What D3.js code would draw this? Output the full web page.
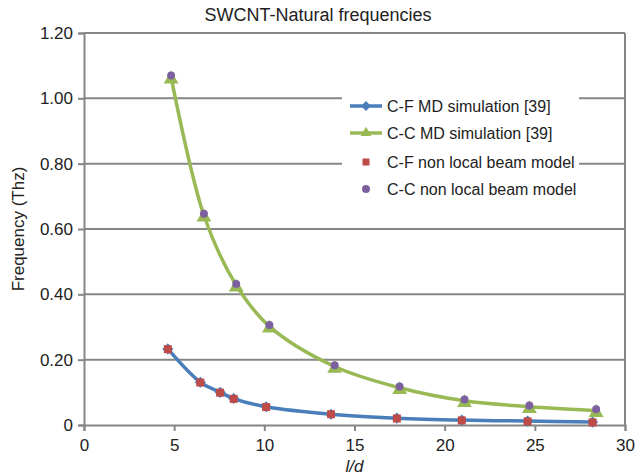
<!DOCTYPE html>
<html lang="en">
<head>
    <meta charset="UTF-8">
    <title>SWCNT-Natural frequencies</title>
    <script src="https://d3js.org/d3.v7.min.js"></script>
    <style>
        body { margin: 0; background: #fff; font-family: "Liberation Sans", Arial, sans-serif; }
        svg { display: block; }
    </style>
</head>
<body>
    <svg id="chart" width="635" height="476"></svg>

    <script>
        // Data
        const cfX = [4.65, 6.45, 7.55, 8.3, 10.1, 13.7, 17.35, 20.95, 24.6, 28.2];
        const cfMD = [0.233, 0.131, 0.100, 0.081, 0.056, 0.033, 0.021, 0.015, 0.012, 0.009];
        const cfBeam = [0.232, 0.130, 0.099, 0.080, 0.055, 0.033, 0.020, 0.014, 0.011, 0.008];

        const ccX = [4.83, 6.65, 8.44, 10.28, 13.9, 17.5, 21.1, 24.7, 28.4];
        const ccMD = [1.065, 0.642, 0.428, 0.302, 0.179, 0.114, 0.074, 0.056, 0.044];
        const ccBeam = [1.070, 0.647, 0.432, 0.306, 0.183, 0.118, 0.078, 0.060, 0.048];

        const xTicks = [0, 5, 10, 15, 20, 25, 30];
        const yTicks = [0, 0.2, 0.4, 0.6, 0.8, 1.0, 1.2];
        const yTickLabels = ["0", "0.20", "0.40", "0.60", "0.80", "1.00", "1.20"];

        const colors = {blue: "#4A7EBB", green: "#98B954", red: "#BE4B48", purple: "#7D60A0", grid: "#868686"};

        const margin = {top: 33, right: 10, bottom: 51, left: 84};
        const width = 625 - margin.left;
        const height = 425 - margin.top;

        const svg = d3.select("#chart");
        const g = svg.append("g").attr("transform", `translate(${margin.left},${margin.top})`);

        const x = d3.scaleLinear().domain([0, 30]).range([0, width]);
        const y = d3.scaleLinear().domain([0, 1.2]).range([height, 0]);

        // gridlines
        g.append("g").selectAll("line")
            .data(yTicks.slice(1))
            .enter().append("line")
            .attr("x1", 0).attr("x2", width)
            .attr("y1", d => y(d)).attr("y2", d => y(d))
            .attr("stroke", colors.grid).attr("stroke-width", 2);

        // right border
        g.append("line")
            .attr("x1", width).attr("x2", width)
            .attr("y1", 0).attr("y2", height)
            .attr("stroke", colors.grid).attr("stroke-width", 2);

        // axes
        const yAxis = g.append("g")
            .call(d3.axisLeft(y).tickValues(yTicks).tickFormat((d, i) => yTickLabels[i]).tickSize(6).tickPadding(5));
        const xAxis = g.append("g")
            .attr("transform", `translate(0,${height})`)
            .call(d3.axisBottom(x).tickValues(xTicks).tickSize(6).tickPadding(8));

        [yAxis, xAxis].forEach(a => {
            a.select(".domain").attr("stroke", colors.grid).attr("stroke-width", 2);
            a.selectAll(".tick line").attr("stroke", colors.grid).attr("stroke-width", 2);
            a.selectAll("text").attr("fill", "#222").style("font-size", "17px")
                .style("font-family", "'Liberation Sans', Arial, sans-serif");
        });

        // legend background (covers gridlines)
        svg.append("rect")
            .attr("x", 342).attr("y", 92).attr("width", 237).attr("height", 112)
            .attr("fill", "#fff");

        const line = d3.line()
            .x(d => x(d[0])).y(d => y(d[1]))
            .curve(d3.curveCatmullRom.alpha(0.5));

        const cfPts = cfX.map((v, i) => [v, cfMD[i]]);
        const ccPts = ccX.map((v, i) => [v, ccMD[i]]);

        g.append("path").datum(cfPts).attr("d", line)
            .attr("fill", "none").attr("stroke", colors.blue).attr("stroke-width", 3.5);
        g.append("path").datum(ccPts).attr("d", line)
            .attr("fill", "none").attr("stroke", colors.green).attr("stroke-width", 3.5);

        // diamond = square rotated 45 degrees
        const diamond = d3.symbol().type(d3.symbolSquare).size(62);
        const triangle = d3.symbol().type(d3.symbolTriangle).size(95);
        const square = d3.symbol().type(d3.symbolSquare).size(64);
        const circle = d3.symbol().type(d3.symbolCircle).size(50);

        g.append("g").selectAll("path").data(cfPts).enter().append("path")
            .attr("d", diamond)
            .attr("transform", d => `translate(${x(d[0])},${y(d[1])}) rotate(45)`)
            .attr("fill", colors.blue);
        g.append("g").selectAll("path").data(ccPts).enter().append("path")
            .attr("d", triangle)
            .attr("transform", d => `translate(${x(d[0])},${y(d[1]) + 2})`)
            .attr("fill", colors.green);
        g.append("g").selectAll("path").data(cfX.map((v, i) => [v, cfBeam[i]])).enter().append("path")
            .attr("d", square)
            .attr("transform", d => `translate(${x(d[0])},${y(d[1])})`)
            .attr("fill", colors.red);
        g.append("g").selectAll("path").data(ccX.map((v, i) => [v, ccBeam[i]])).enter().append("path")
            .attr("d", circle)
            .attr("transform", d => `translate(${x(d[0])},${y(d[1])})`)
            .attr("fill", colors.purple);

        // title and axis labels
        svg.append("text")
            .attr("x", 318).attr("y", 21)
            .attr("text-anchor", "middle")
            .style("font-size", "18px").attr("fill", "#222")
            .text("SWCNT-Natural frequencies");

        svg.append("text")
            .attr("transform", `translate(24,${margin.top + height / 2}) rotate(-90)`)
            .attr("text-anchor", "middle")
            .style("font-size", "17px").attr("fill", "#222")
            .text("Frequency (Thz)");

        svg.append("text")
            .attr("x", x(15) + margin.left).attr("y", 472)
            .attr("text-anchor", "middle")
            .style("font-size", "17px").style("font-style", "italic").attr("fill", "#222")
            .text("l/d");

        // legend
        const legendItems = [
            {label: "C-F MD simulation [39]", line: colors.blue, sym: diamond, rot: 45, fill: colors.blue},
            {label: "C-C MD simulation [39]", line: colors.green, sym: triangle, rot: 0, fill: colors.green},
            {label: "C-F non local beam model", line: null, sym: square, rot: 0, fill: colors.red},
            {label: "C-C non local beam model", line: null, sym: circle, rot: 0, fill: colors.purple}
        ];
        const legendY = [106, 133, 162, 189];

        const leg = svg.append("g").selectAll("g")
            .data(legendItems)
            .enter().append("g")
            .attr("transform", (d, i) => `translate(350,${legendY[i]})`);

        leg.filter(d => d.line).append("line")
            .attr("x1", 0).attr("x2", 32).attr("y1", 0).attr("y2", 0)
            .attr("stroke", d => d.line).attr("stroke-width", 3.5);
        leg.append("path")
            .attr("d", d => d.sym.size(d.sym === circle ? 50 : 49)())
            .attr("transform", d => `translate(16,0) rotate(${d.rot})`)
            .attr("fill", d => d.fill);
        leg.append("text")
            .attr("x", 37).attr("y", 5.5)
            .style("font-size", "16px").attr("fill", "#222")
            .text(d => d.label);
    </script>
</body>
</html>
